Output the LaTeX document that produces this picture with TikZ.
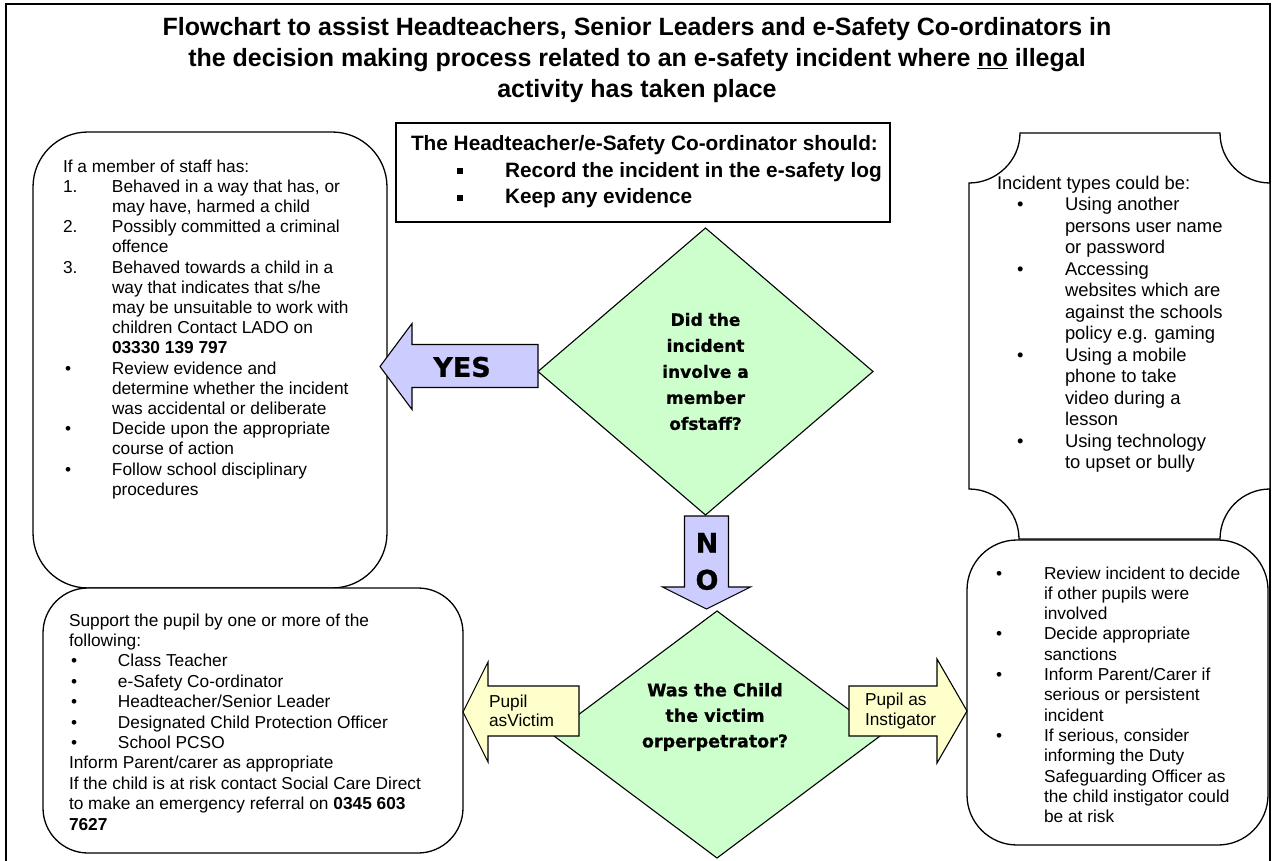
\documentclass[tikz,border=0pt]{standalone}
\usepackage{fontspec}
\setmainfont{Liberation Sans}
\newfontfamily\heavyfont{DejaVu Sans}[BoldFeatures={FakeBold=0.8}]
\usetikzlibrary{shapes.geometric}

\definecolor{arrowblue}{HTML}{CCCCFF}
\definecolor{choicegreen}{HTML}{CCFFCC}
\definecolor{pupilyellow}{HTML}{FFFFCC}

% list helpers
\newcommand{\lab}[2][49pt]{\makebox[#1][l]{#2}}
\newcommand{\cont}[1][49pt]{\hspace*{#1}}
\newcommand{\bul}{\hspace{2pt}\textbullet}
\newcommand{\sqbul}{\rule[3pt]{6pt}{6pt}}

\begin{document}
\begin{tikzpicture}[x=1pt, y=-1pt,
    every node/.style = {inner sep=0pt, outer sep=0pt},
    frame/.style = {line width=1.5pt},
    box/.style = {draw, line width=1.3pt, fill=white},
    choice/.style = {shape=diamond, draw, line width=1.1pt, fill=choicegreen,
      aspect=1.17, align=center, font=\heavyfont\bfseries\fontsize{17}{26}\selectfont},
    blockarrow/.style = {draw, line width=1.1pt},
    bodytext/.style = {align=left, anchor=north west,
      font=\fontsize{17.3}{20.2}\selectfont},
    bigword/.style = {align=center, font=\heavyfont\bfseries\fontsize{27}{37}\selectfont}]

  \useasboundingbox (0,0) rectangle (1274,861);
  \draw[frame] (6,861) -- (6,4) -- (1270,4) -- (1270,861);

  \node[align=center, font=\bfseries\fontsize{25}{31}\selectfont] (title) at (637,60)
    {Flowchart to assist Headteachers, Senior Leaders and e-Safety Co-ordinators in\\
     the decision making process related to an e-safety incident where \underline{no} illegal\\
     activity has taken place};

  % boxes
  \node[box, minimum width=494pt, minimum height=99pt] (duties) at (643,172.5) {};
  \node[box, rounded corners=55pt, minimum width=354pt, minimum height=456pt] (staff) at (210,360) {};
  \node[box, rounded corners=45pt, minimum width=420pt, minimum height=265pt] (support) at (253,720.5) {};
  \node[box, rounded corners=50pt, minimum width=301pt, minimum height=305pt] (sanction) at (1117.5,692.5) {};
  \draw[box] (1020,133) -- (1220,133) .. controls (1220,160.6) and (1242.4,183) .. (1270,183)
    -- (1270,489) .. controls (1242.4,489) and (1220,511.4) .. (1220,539)
    -- (1019,539) .. controls (1019,511.4) and (996.6,489) .. (969,489)
    -- (969,183) .. controls (996.6,183) and (1020,160.6) .. cycle;
  \coordinate (types) at (969,133);

  % decisions
  \node[choice, minimum width=335pt, minimum height=287pt] (staffq) at (705.5,371.5)
    {Did the\\incident\\involve a\\member\\ofstaff?};
  \node[choice, minimum width=330pt, minimum height=247pt] (roleq) at (717,734.5) {};
  \node[choice, draw=none, fill=none, font=\heavyfont\bfseries\fontsize{17.5}{25.5}\selectfont]
    (roletext) at ([yshift=17.5pt, xshift=-2pt]roleq.center)
    {Was the Child\\the victim\\orperpetrator?};

  % arrows
  \draw[blockarrow, fill=arrowblue] (staffq.west) ++(0,-27) -- ++(-126,0) -- ++(0,-21)
    -- ++(-32,43) -- ++(32,43) -- ++(0,-22) -- ++(126,0) -- cycle;
  \node[bigword] (yes) at (462,367) {YES};
  \draw[blockarrow, fill=arrowblue] (staffq.south) ++(-21,1) -- ++(0,71) -- ++(-22,0)
    -- ++(44,22) -- ++(44,-22) -- ++(-22,0) -- ++(0,-71) -- cycle;
  \node[bigword] (no) at (707,561.5) {N\\O};
  \draw[blockarrow, fill=pupilyellow] (roleq.center) ++(-138,-48.5) -- ++(-91,0) -- ++(0,-24)
    -- ++(-25,50) -- ++(25,50) -- ++(0,-26) -- ++(91,0) -- cycle;
  \node[align=left, anchor=west, font=\fontsize{17.3}{19.5}\selectfont] (victim) at (489,711)
    {Pupil\\asVictim};
  \draw[blockarrow, fill=pupilyellow] (roleq.center) ++(132,-48.5) -- ++(88,0) -- ++(0,-27)
    -- ++(30,52) -- ++(-30,52) -- ++(0,-27) -- ++(-88,0) -- cycle;
  \node[align=left, anchor=west, font=\fontsize{17.3}{19.5}\selectfont] (instigator) at (865,711)
    {Pupil as\\Instigator};

  % texts
  \node[bodytext, font=\bfseries\fontsize{20.8}{26.5}\selectfont] (dutiestext) at (411,135.5)
    {The Headteacher/e-Safety Co-ordinator should:\\
     \cont[46pt]\lab[48pt]{\sqbul}Record the incident in the e-safety log\\
     \cont[46pt]\lab[48pt]{\sqbul}Keep any evidence};
  \node[bodytext] (stafftext) at (63,159.5)
    {If a member of staff has:\\
     \lab{1.}Behaved in a way that has, or\\
     \cont may have, harmed a child\\
     \lab{2.}Possibly committed a criminal\\
     \cont offence\\
     \lab{3.}Behaved towards a child in a\\
     \cont way that indicates that s/he\\
     \cont may be unsuitable to work with\\
     \cont children Contact LADO on\\
     \cont\textbf{03330 139 797}\\
     \lab{\bul}Review evidence and\\
     \cont determine whether the incident\\
     \cont was accidental or deliberate\\
     \lab{\bul}Decide upon the appropriate\\
     \cont course of action\\
     \lab{\bul}Follow school disciplinary\\
     \cont procedures};
  \node[bodytext, font=\fontsize{18.4}{21.5}\selectfont] (typestext) at (997,176)
    {Incident types could be:\\
     \lab[68pt]{\hspace{18pt}\bul}Using another\\
     \cont[68pt]persons user name\\
     \cont[68pt]or password\\
     \lab[68pt]{\hspace{18pt}\bul}Accessing\\
     \cont[68pt]websites which are\\
     \cont[68pt]against the schools\\
     \cont[68pt]policy e.g. gaming\\
     \lab[68pt]{\hspace{18pt}\bul}Using a mobile\\
     \cont[68pt]phone to take\\
     \cont[68pt]video during a\\
     \cont[68pt]lesson\\
     \lab[68pt]{\hspace{18pt}\bul}Using technology\\
     \cont[68pt]to upset or bully};
  \node[bodytext, font=\fontsize{17.3}{20.4}\selectfont] (supporttext) at (69,613.5)
    {Support the pupil by one or more of the\\
     following:\\
     \lab{\bul}Class Teacher\\
     \lab{\bul}e-Safety Co-ordinator\\
     \lab{\bul}Headteacher/Senior Leader\\
     \lab{\bul}Designated Child Protection Officer\\
     \lab{\bul}School PCSO\\
     Inform Parent/carer as appropriate\\
     If the child is at risk contact Social Care Direct\\
     to make an emergency referral on \textbf{0345 603}\\
     \textbf{7627}};
  \node[bodytext, font=\fontsize{17.3}{20.3}\selectfont] (sanctiontext) at (994,566.5)
    {\lab[50pt]{\bul}Review incident to decide\\
     \cont[50pt]if other pupils were\\
     \cont[50pt]involved\\
     \lab[50pt]{\bul}Decide appropriate\\
     \cont[50pt]sanctions\\
     \lab[50pt]{\bul}Inform Parent/Carer if\\
     \cont[50pt]serious or persistent\\
     \cont[50pt]incident\\
     \lab[50pt]{\bul}If serious, consider\\
     \cont[50pt]informing the Duty\\
     \cont[50pt]Safeguarding Officer as\\
     \cont[50pt]the child instigator could\\
     \cont[50pt]be at risk};
\end{tikzpicture}
\end{document}
